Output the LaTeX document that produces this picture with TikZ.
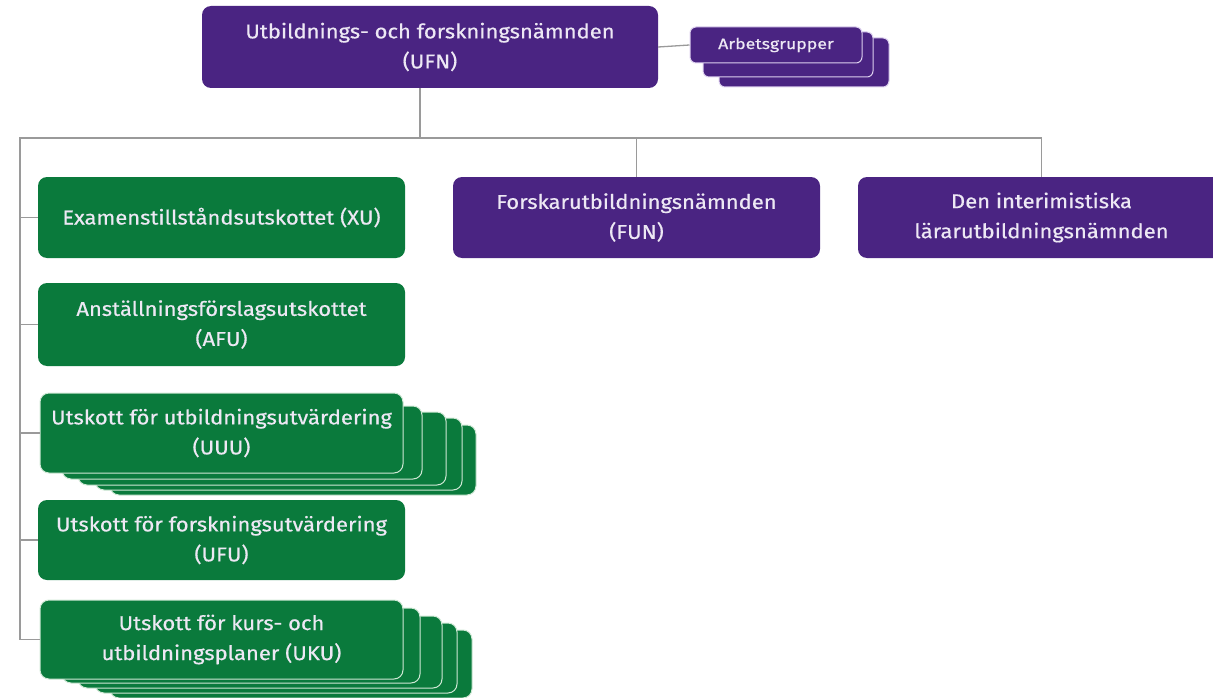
\documentclass[tikz,border=0pt]{standalone}
\usepackage{fontspec}
\setmainfont{Fira Sans}
\newfontfamily\boxfont[FakeStretch=1.1, FakeBold=0.5]{Fira Sans}
\newfontfamily\smallboxfont[FakeStretch=1.18, FakeBold=0.6]{Fira Sans}
\definecolor{ufnpurple}{HTML}{4A2482}
\definecolor{ufngreen}{HTML}{0A7A3C}
\definecolor{conngray}{HTML}{9A9A9A}
\definecolor{edgegreen}{HTML}{CFE8D5}
\definecolor{edgepurple}{HTML}{DCD0EE}
\definecolor{txt}{HTML}{EDE8F4}
\begin{document}
\begin{tikzpicture}[x=1pt,y=-1pt,
  box/.style={rounded corners=9pt, align=center, inner sep=0pt, text=txt,
    font=\boxfont\fontsize{20}{30}\selectfont},
  pbox/.style={box, fill=ufnpurple},
  gbox/.style={box, fill=ufngreen},
  gcopy/.style={rounded corners=9pt, fill=ufngreen, draw=edgegreen, line width=1pt},
  pcopy/.style={rounded corners=6pt, fill=ufnpurple, draw=edgepurple, line width=1pt},
  conn/.style={draw=conngray, line width=1.3pt}]
\useasboundingbox (0,0) rectangle (1213,698);
% top node
\node[pbox, minimum width=456pt, minimum height=82pt] (UFN) at (430,47)
  {Utbildnings- och forskningsnämnden\\(UFN)};
% Arbetsgrupper stack
\draw[pcopy] (719,38) rectangle (889,87);
\draw[pcopy] (703,32) rectangle (873,77);
\node[box, fill=ufnpurple, draw=edgepurple, line width=1pt, rounded corners=6pt,
  minimum width=172pt, minimum height=36pt, font=\smallboxfont\fontsize{15}{18}\selectfont] (ARB) at (776,45) {Arbetsgrupper};
% second row
\node[gbox, minimum width=367pt, minimum height=81pt] (XU) at (221.5,217.5)
  {Examenstillståndsutskottet (XU)};
\node[pbox, minimum width=367pt, minimum height=81pt] (FUN) at (636.5,217.5)
  {Forskarutbildningsnämnden\\(FUN)};
\node[pbox, minimum width=367pt, minimum height=81pt] (LUN) at (1041.5,217.5)
  {Den interimistiska\\lärarutbildningsnämnden};
\node[gbox, minimum width=367pt, minimum height=83pt] (AFU) at (221.5,324.5)
  {Anställningsförslagsutskottet\\(AFU)};
% UUU stack
\draw[gcopy] (110,425) rectangle (476,495);
\draw[gcopy] (95,418) rectangle (462,490);
\draw[gcopy] (78,412) rectangle (446,485);
\draw[gcopy] (62,406) rectangle (422,479);
\node[gbox, draw=edgegreen, line width=1pt, minimum width=363pt, minimum height=80pt] (UUU) at (221.5,433)
  {Utskott för utbildningsutvärdering\\(UUU)};
\node[gbox, minimum width=367pt, minimum height=80pt] (UFU) at (221.5,540)
  {Utskott för forskningsutvärdering\\(UFU)};
% UKU stack
\draw[gcopy] (110,630) rectangle (472,698);
\draw[gcopy] (95,623) rectangle (457,693);
\draw[gcopy] (78,616) rectangle (442,688);
\draw[gcopy] (62,608) rectangle (420,683);
\node[gbox, draw=edgegreen, line width=1pt, minimum width=363pt, minimum height=79pt] (UKU) at (221.5,639.5)
  {Utskott för kurs- och\\utbildningsplaner (UKU)};
% connectors
\coordinate (busL) at (20,138);
\coordinate (busR) at (1043,138);
\draw[conn] (UFN.east) -- (ARB.west);
\draw[conn] ([xshift=-10pt]UFN.south) -- ([xshift=-10pt]UFN.south |- busL);
\draw[conn] (LUN.north) -- (LUN.north |- busR) -- (busL) -- (busL |- UKU.west) -- (UKU.west);
\draw[conn] (FUN.north) -- (FUN.north |- busL);
\draw[conn] (busL |- XU.west) -- (XU.west);
\draw[conn] (busL |- AFU.west) -- (AFU.west);
\draw[conn] (busL |- UUU.west) -- (UUU.west);
\draw[conn] (busL |- UFU.west) -- (UFU.west);
\end{tikzpicture}
\end{document}
